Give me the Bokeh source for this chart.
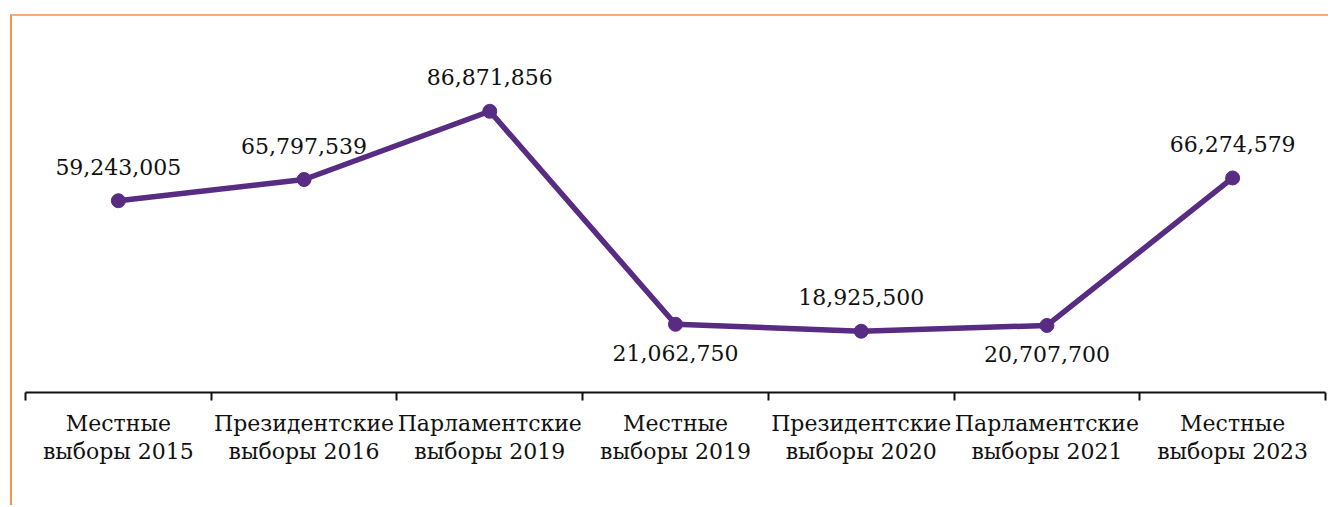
from bokeh.plotting import figure
from bokeh.models import ColumnDataSource, FixedTicker, Range1d, LabelSet
from bokeh.core.properties import value
from bokeh.embed import file_html
from bokeh.resources import INLINE

categories = [
    "Местные\nвыборы 2015",
    "Президентские\nвыборы 2016",
    "Парламентские\nвыборы 2019",
    "Местные\nвыборы 2019",
    "Президентские\nвыборы 2020",
    "Парламентские\nвыборы 2021",
    "Местные\nвыборы 2023",
]
values = [59243005, 65797539, 86871856, 21062750, 18925500, 20707700, 66274579]
label_side = ["above", "above", "above", "below", "above", "below", "above"]

n = len(categories)
xs = [i + 0.5 for i in range(n)]
offsets = {"above": 34, "below": -29}
source = ColumnDataSource(dict(
    x=xs,
    y=values,
    label=[f"{v:,}" for v in values],
    yoff=[offsets[s] for s in label_side],
))

PURPLE = "#582C83"

p = figure(
    width=1318, height=491,
    x_range=Range1d(0, n), y_range=Range1d(0, 114.3e6),
    output_backend="svg", toolbar_location=None,
    y_axis_location=None,
    min_border_left=13, min_border_right=5, min_border_top=6, min_border_bottom=115,
    outline_line_color=None,
    background_fill_color="white", border_fill_color="white",
    styles={"border-top": "2px solid #F8AD78", "border-left": "2px solid #F3944A",
            "margin-left": "10px", "margin-top": "14px"},
)
p.xgrid.visible = False
p.ygrid.visible = False

p.line("x", "y", source=source, line_color=PURPLE, line_width=5.5)
p.scatter("x", "y", source=source, size=14, fill_color=PURPLE, line_color=PURPLE)

labels = LabelSet(
    x="x", y="y", text="label", source=source, y_offset="yoff",
    text_align="center", text_baseline="middle",
    text_font=value("DejaVu Serif"), text_font_size="22px", text_color="#111111",
)
p.add_layout(labels)

ax = p.xaxis[0]
ax.ticker = FixedTicker(ticks=xs, minor_ticks=list(range(n + 1)))
ax.major_label_overrides = {x: c for x, c in zip(xs, categories)}
ax.major_tick_out = 0
ax.major_tick_in = 0
ax.minor_tick_out = 8
ax.minor_tick_in = 0
ax.minor_tick_line_color = "#111111"
ax.minor_tick_line_width = 2
ax.axis_line_color = "#111111"
ax.axis_line_width = 2
ax.major_label_text_font = "DejaVu Serif"
ax.major_label_text_font_size = "22px"
ax.major_label_text_color = "#111111"
ax.major_label_standoff = 10
ax.major_label_text_line_height = 1.14

open("out.html", "w").write(file_html(p, INLINE))
